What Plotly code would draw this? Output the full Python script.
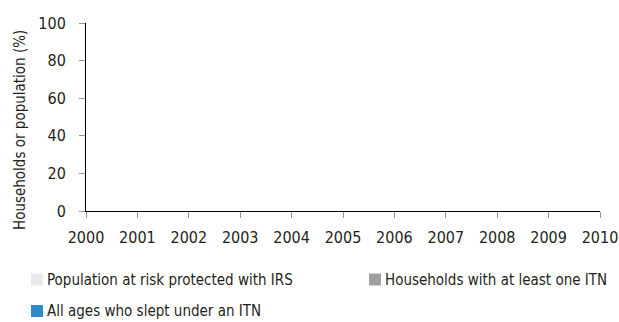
import plotly.graph_objects as go

# ---- data ----
years = [2000, 2001, 2002, 2003, 2004, 2005, 2006, 2007, 2008, 2009, 2010]
series_names = [
    "Population at risk protected with IRS",
    "Households with at least one ITN",
    "All ages who slept under an ITN",
]
irs_values = [None] * 11
hh_itn_values = [None] * 11
slept_itn_values = [None] * 11
y_ticks = [0, 20, 40, 60, 80, 100]
y_title = "Households or population (%)"

# ---- style ----
FONT = "DejaVu Sans Condensed, Liberation Sans Narrow, sans-serif"
colors = ["#EBEBEB", "#A0A0A0", "#2F88CA"]
TXT = "#231F20"
W, H = 619, 322
L, R, T, B = 86, 19, 23, 111
pw, ph = W - L - R, H - T - B

fig = go.Figure()
for name, vals, col in zip(series_names, [irs_values, hh_itn_values, slept_itn_values], colors):
    fig.add_trace(go.Bar(x=years, y=vals, name=name, marker_color=col, showlegend=False))


def px2paper(x, y):
    return (x - L) / pw, (H - B - y) / ph


# custom legend (square swatch tight to label)
legend_pos = [(31, 279.5), (369, 279.5), (31, 311)]
shapes = []
annotations = []
for name, col, (sx, sy) in zip(series_names, colors, legend_pos):
    x0, y0 = px2paper(sx, sy + 6)
    x1, y1 = px2paper(sx + 12, sy - 6)
    shapes.append(dict(type="rect", xref="paper", yref="paper", x0=x0, x1=x1, y0=y0, y1=y1,
                       fillcolor=col, line=dict(width=0)))
    ax, ay = px2paper(sx + 14, sy)
    annotations.append(dict(text=name, xref="paper", yref="paper", x=ax, y=ay, xanchor="left",
                            yanchor="middle", showarrow=False,
                            font=dict(family=FONT, size=15, color=TXT)))

tx, ty = px2paper(20, 130)
annotations.append(dict(text=y_title, xref="paper", yref="paper", x=tx, y=ty, xanchor="center",
                        yanchor="middle", textangle=-90, showarrow=False,
                        font=dict(family=FONT, size=15, color=TXT)))

fig.update_layout(
    width=W, height=H,
    margin=dict(l=L, r=R, t=T, b=B, pad=0),
    paper_bgcolor="white", plot_bgcolor="white",
    font=dict(family=FONT, size=16, color=TXT),
    shapes=shapes, annotations=annotations,
    barmode="group",
)
fig.update_xaxes(
    range=[2000, 2010], tickvals=years, ticktext=[str(v) for v in years],
    showgrid=False, zeroline=False, showline=True, linecolor="#000000", linewidth=1,
    ticks="outside", ticklen=6, tickcolor="#999999", tickwidth=1,
    ticklabelstandoff=6, automargin=False,
)
fig.update_yaxes(
    range=[0, 100], tickvals=y_ticks,
    showgrid=False, zeroline=False, showline=True, linecolor="#000000", linewidth=1,
    ticks="outside", ticklen=6, tickcolor="#999999", tickwidth=1,
    ticklabelstandoff=10, automargin=False,
)

fig.write_html("out.html", config={"displayModeBar": False},
               post_script="document.body.style.margin='0';")
